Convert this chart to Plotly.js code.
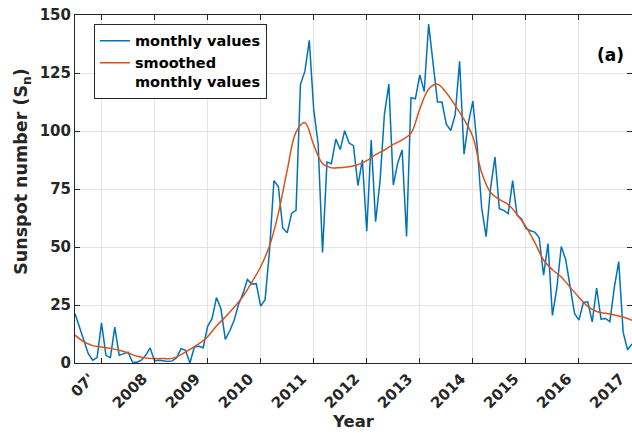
<!DOCTYPE html>
<html><head><meta charset="utf-8">
<script src="https://cdn.plot.ly/plotly-3.0.1.min.js"></script>
<style>html,body{margin:0;padding:0;background:#fff}#chart{width:632px;height:433px}</style>
</head><body><div id="chart"></div>
<script>
// Monthly sunspot numbers, June 2007 .. December 2017
const startYear = 2007;
const startMonth = 6;
const monthly = [
  21.3, 15.5, 9.8, 4.0, 1.2, 2.3, 17.3,
  3.3, 2.3, 15.5, 3.3, 4.0, 4.7, 0.4, 0.3, 1.2, 3.3, 6.5, 0.9,
  1.2, 1.0, 0.6, 0.9, 2.3, 6.2, 5.5, 0.0, 6.9, 7.2, 6.6, 15.8,
  19.1, 28.2, 23.5, 10.2, 13.8, 18.4, 25.3, 29.9, 36.0, 34.0, 34.2, 24.5,
  27.3, 48.3, 78.6, 76.1, 58.2, 56.1, 64.5, 65.8, 120.1, 125.7, 139.1, 109.3,
  94.4, 47.6, 86.6, 85.9, 96.5, 92.0, 100.1, 94.8, 93.7, 76.5, 87.6, 56.8,
  96.1, 60.9, 78.3, 107.3, 120.2, 76.7, 86.2, 91.8, 54.5, 114.4, 113.9, 124.2,
  117.0, 146.1, 128.7, 112.5, 112.5, 102.9, 100.2, 106.9, 130.0, 90.0, 103.6, 112.9,
  93.0, 66.7, 54.5, 75.3, 88.8, 66.5, 65.8, 64.4, 78.6, 63.6, 62.2, 58.0,
  57.0, 56.4, 54.1, 37.9, 51.5, 20.5, 32.4, 50.2, 44.6, 33.4, 21.4, 18.5,
  26.1, 26.4, 17.7, 32.3, 18.9, 19.2, 17.8, 32.6, 43.7, 13.2, 5.7, 8.2
];
// Smoothed monthly values, sampled every 2 months from June 2007
const smoothedStep = 2;
const smoothed = [
  12.0, 9.2, 7.5, 6.9, 6.3, 5.5, 4.3, 2.9, 2.1, 1.9, 1.9, 2.0,
  3.6, 5.9, 8.2, 11.3, 16.0, 19.8, 24.0, 28.7, 34.8, 41.5, 50.5, 64.5,
  83.0, 99.5, 103.6, 94.0, 86.0, 84.2, 84.2, 84.6, 85.5, 87.2, 89.8, 91.8,
  94.2, 96.2, 99.0, 109.5, 118.0, 120.2, 116.5, 111.0, 105.0, 97.5, 82.0, 73.5,
  70.5, 68.3, 64.0, 58.8, 52.0, 44.4, 40.2, 37.1, 32.7, 28.3, 24.4, 22.2,
  21.4, 20.7, 19.8, 18.4
];
const yearBoundaries = [2008, 2009, 2010, 2011, 2012, 2013, 2014, 2015, 2016, 2017, 2018];
const yearLabels = ["07'", "2008", "2009", "2010", "2011", "2012", "2013", "2014", "2015", "2016", "2017"];
const yTicks = [0, 25, 50, 75, 100, 125, 150];
const yTitle = 'Sunspot number (S<sub>n</sub>)';

const monthX = i => startYear + (startMonth + i) / 12;
const xMonthly = monthly.map((_, i) => monthX(i));
const xSmoothed = smoothed.map((_, i) => monthX(i * smoothedStep));
const labelPos = yearBoundaries.map(b => b - 0.22);

const FONT = 'DejaVu Sans';
const AX = '#262626';
const GRID = '#e4e4e4';

const traces = [
  {x: xMonthly, y: monthly, type: 'scatter', mode: 'lines', name: 'monthly values',
   line: {color: '#0072BD', width: 1.5}},
  {x: xSmoothed, y: smoothed, type: 'scatter', mode: 'lines', name: 'smoothed<br>monthly values',
   line: {color: '#D95319', width: 1.5, shape: 'spline', smoothing: 1}}
];

const layout = {
  width: 632, height: 433,
  margin: {l: 75, r: 0, t: 15, b: 70.3},
  paper_bgcolor: '#fff', plot_bgcolor: '#fff',
  font: {family: FONT, color: AX},
  showlegend: true,
  xaxis: {
    range: [2007.5, 2018],
    tickmode: 'array', tickvals: labelPos, ticktext: yearLabels,
    ticks: '', showgrid: false, zeroline: false,
    tickangle: -45,
    tickfont: {family: FONT, size: 15, weight: 'bold', color: AX},
    showline: true, linecolor: AX, linewidth: 1, mirror: 'ticks',
    minor: {tickmode: 'array', tickvals: yearBoundaries, ticks: 'inside', ticklen: 5,
            tickcolor: AX, tickwidth: 1, showgrid: true, gridcolor: GRID, gridwidth: 1},
    title: {text: 'Year', font: {family: FONT, size: 16.5, weight: 'bold', color: AX}, standoff: 4}
  },
  yaxis: {
    range: [0, 150],
    tickmode: 'array', tickvals: yTicks,
    ticks: 'inside', ticklen: 5, tickcolor: AX, tickwidth: 1,
    showgrid: true, gridcolor: GRID, gridwidth: 1, zeroline: false,
    tickfont: {family: FONT, size: 15, weight: 'bold', color: AX},
    showline: true, linecolor: AX, linewidth: 1, mirror: 'ticks'
  },
  legend: {
    x: 0.034, y: 0.9745, xanchor: 'left', yanchor: 'top',
    bgcolor: '#fff', bordercolor: AX, borderwidth: 1,
    font: {family: FONT, size: 14.5, weight: 'bold', color: '#000'},
    valign: 'top', tracegroupgap: 0
  },
  annotations: [
    {text: '(a)', xref: 'paper', yref: 'paper', x: 0.962, y: 0.885,
     xanchor: 'center', yanchor: 'middle', showarrow: false,
     font: {family: FONT, size: 17, weight: 'bold', color: '#000'}},
    {text: yTitle, xref: 'paper', yref: 'paper', x: -0.0935, y: 0.552,
     xanchor: 'center', yanchor: 'middle', textangle: -90, showarrow: false,
     font: {family: FONT, size: 17.5, weight: 'bold', color: AX}}
  ]
};

Plotly.newPlot('chart', traces, layout, {displayModeBar: false, staticPlot: true});
</script>
</body></html>
